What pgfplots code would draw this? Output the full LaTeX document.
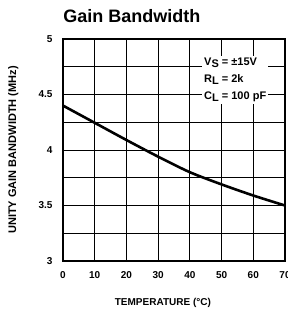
\documentclass[border=0pt]{standalone}
\usepackage{pgfplots}
\pgfplotsset{compat=1.18}
\usepackage{fontspec}
\setmainfont{Liberation Sans}
\begin{document}
\begin{tikzpicture}
\begin{axis}[
  at={(0,0)}, anchor=south west,
  scale only axis, width=222pt, height=222pt,
  xmin=0, xmax=70, ymin=3, ymax=5,
  xtick={0,10,...,70},
  ytick={3,3.5,4,4.5,5},
  yticklabels={3,3.5,4,4.5,5},
  minor ytick={3.25,3.75,4.25,4.75},
  grid=both,
  major grid style={black, line width=0.8pt},
  minor grid style={black, line width=0.8pt},
  axis line style={black, line width=1.3pt},
  major tick length=0pt, minor tick length=0pt,
  /pgf/number format/assume math mode=true,
  tick label style={font=\bfseries\fontsize{10}{12}\selectfont},
  xticklabel style={yshift=-7pt},
  yticklabel style={xshift=-7pt},
  xlabel={\bfseries TEMPERATURE (°C)},
  xlabel style={font=\fontsize{10}{12}\selectfont, at={([yshift=-34pt]axis description cs:0.45,0)}, anchor=north},
  ylabel={\bfseries UNITY GAIN BANDWIDTH (MHz)},
  ylabel style={font=\fontsize{11}{12}\selectfont, at={([xshift=-41pt]axis description cs:0,0.5)}, anchor=south},
  title={\bfseries Gain Bandwidth},
  title style={font=\fontsize{18}{20}\selectfont, at={([yshift=10pt]axis description cs:0.31,1)}, anchor=base},
  clip=true,
]
\addplot[black, line width=2.6pt, smooth] coordinates {
  (0,4.40) (10,4.245) (20,4.09) (30,3.94) (40,3.80) (50,3.69) (60,3.59) (70,3.50)
};
\node[fill=white, inner sep=2pt, align=left, font=\bfseries\fontsize{11}{17}\selectfont, anchor=center]
  at (axis cs:54.3,4.63)
  {V\raisebox{-0.35ex}{S} = ±15V\\ R\raisebox{-0.35ex}{L} = 2k\\ C\raisebox{-0.35ex}{L} = 100 pF};
\end{axis}
\pgfresetboundingbox
\path[use as bounding box] (-63pt,-51pt) rectangle (225pt,261pt);
\end{tikzpicture}
\end{document}
